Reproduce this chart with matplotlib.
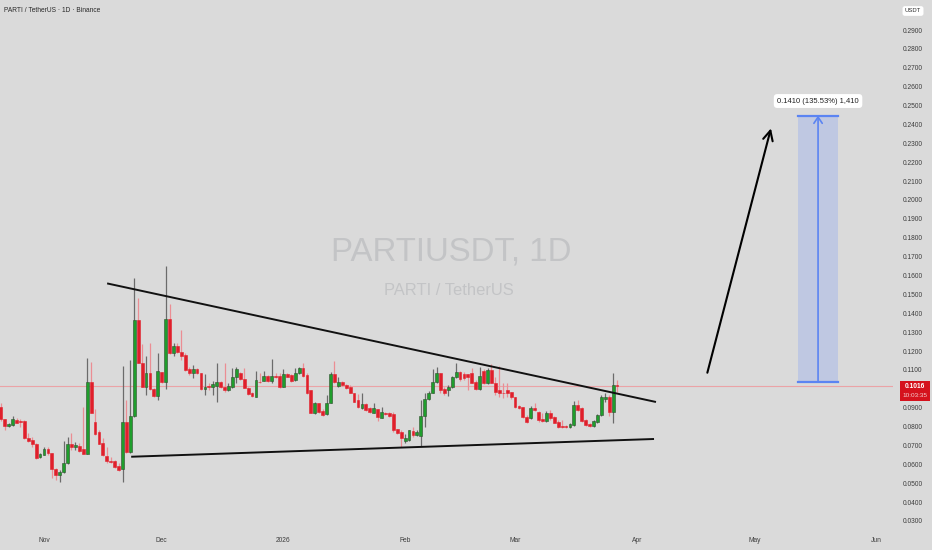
import matplotlib
matplotlib.use('Agg')
import matplotlib.pyplot as plt
import matplotlib.dates as mdates
from matplotlib.patches import Rectangle
from matplotlib import font_manager
import pandas as pd

# ---------------- data ----------------
start_date = '2025-10-21'
opens = [.0905, .0838, .0803, .0808, .0834, .0827, .0827, .0737, .0728, .0707,
         .0637, .0651, .0681, .0658, .0577, .0541, .0559, .0608, .0705, .0693,
         .0697, .0679, .0654, .1034, .0825, .0769, .0714, .0643, .0619, .0619,
         .0591, .0577, .0825, .0667, .0855, .1364, .1135, .1011, .1081, .0997,
         .0961, .1090, .1037, .1369, .1187, .1226, .1196, .1179, .1103, .1085,
         .1103, .1081, .0997, .1014, .1007, .1014, .1037, .1011, .0993, .1007,
         .1064, .1081, .1050, .1002, .0979, .0958, .1037, .1043, .1067, .1041,
         .1067, .1067, .1007, .1080, .1073, .1046, .1081, .1110, .1073, .0993,
         .0870, .0923, .0884, .0866, .0926, .1078, .1016, .1037, .1020, .1011,
         .0979, .0940, .0896, .0919, .0896, .0873, .0891, .0847, .0873, .0870,
         .0866, .0785, .0773, .0725, .0728, .0776, .0753, .0749, .0855, .0944,
         .0979, .1037, .1082, .0997, .0993, .1007, .1060, .1090, .1076, .1076,
         .1082, .1037, .0997, .1096, .1029, .1099, .1032, .0993, .0979, .0993,
         .0984, .0954, .0908, .0905, .0852, .0843, .0900, .0879, .0838, .0831,
         .0873, .0852, .0825, .0803, .0803, .0795, .0806, .0912, .0896, .0834,
         .0813, .0803, .0824, .0861, .0944, .0958, .0879, .1022]
highs = [.0923, .0838, .0820, .0856, .0843, .0838, .0834, .0767, .0746, .0714,
         .0658, .0693, .0690, .0661, .0578, .0569, .0725, .0746, .0767, .0720,
         .0711, .0905, .1164, .1143, .0891, .0781, .0737, .0693, .0640, .0622,
         .0605, .1120, .0940, .1152, .1585, .1479, .1235, .1173, .1240, .1002,
         .1187, .1090, .1650, .1449, .1240, .1240, .1311, .1187, .1117, .1126,
         .1108, .1086, .1079, .1032, .1041, .1135, .1041, .1135, .1028, .1108,
         .1114, .1090, .1108, .1011, .0984, .1096, .1081, .1094, .1073, .1157,
         .1081, .1086, .1103, .1085, .1078, .1108, .1117, .1135, .1081, .0993,
         .0931, .0926, .0891, .0967, .1090, .1149, .1060, .1043, .1025, .1020,
         .0979, .0972, .0976, .0926, .0901, .0923, .0891, .0901, .0878, .0878,
         .0878, .0788, .0781, .0760, .0781, .0799, .0781, .0940, .0976, .0990,
         .1103, .1117, .1082, .1011, .1020, .1067, .1138, .1096, .1090, .1078,
         .1108, .1046, .1113, .1103, .1108, .1131, .1060, .1120, .1032, .1029,
         .0984, .0954, .0912, .0905, .0861, .0908, .0926, .0880, .0873, .0884,
         .0887, .0856, .0834, .0834, .0806, .0817, .0937, .0940, .0905, .0838,
         .0817, .0834, .0866, .0967, .0976, .0967, .1085, .1046]
lows = [.0831, .0781, .0799, .0803, .0817, .0799, .0734, .0720, .0693, .0626,
        .0633, .0647, .0651, .0525, .0517, .0508, .0552, .0601, .0675, .0675,
        .0667, .0654, .0654, .0870, .0755, .0705, .0643, .0608, .0605, .0578,
        .0566, .0508, .0661, .0661, .0852, .1135, .1007, .0965, .0993, .0958,
        .0940, .1032, .0997, .1184, .1173, .1187, .1152, .1096, .1073, .1055,
        .1078, .0993, .0965, .0993, .0967, .0931, .1002, .0984, .0990, .1002,
        .1032, .1046, .1002, .0967, .0958, .0956, .1028, .1041, .1037, .1032,
        .1055, .1002, .1007, .1060, .1037, .1043, .1078, .1064, .0972, .0870,
        .0866, .0870, .0855, .0861, .0923, .1032, .1011, .1014, .0997, .0976,
        .0931, .0896, .0891, .0884, .0870, .0870, .0831, .0843, .0861, .0852,
        .0773, .0760, .0693, .0714, .0725, .0746, .0750, .0697, .0795, .0940,
        .0976, .1032, .0976, .0967, .0962, .1002, .1055, .1043, .1046, .0993,
        .1029, .0993, .0993, .1025, .1025, .1029, .0967, .0958, .0949, .0958,
        .0944, .0896, .0891, .0843, .0820, .0838, .0884, .0825, .0824, .0825,
        .0834, .0817, .0790, .0790, .0792, .0790, .0803, .0884, .0825, .0803,
        .0799, .0795, .0820, .0855, .0931, .0855, .0820, .0984]
closes = [.0838, .0803, .0813, .0838, .0820, .0824, .0737, .0725, .0705, .0635,
          .0654, .0681, .0658, .0575, .0541, .0559, .0608, .0705, .0693, .0700,
          .0672, .0654, .1034, .0870, .0760, .0707, .0649, .0619, .0610, .0587,
          .0570, .0825, .0667, .0855, .1364, .1135, .1011, .1081, .0997, .0961,
          .1094, .1037, .1369, .1187, .1226, .1196, .1173, .1099, .1085, .1103,
          .1081, .0997, .1011, .1007, .1023, .1034, .1007, .0993, .1014, .1064,
          .1105, .1050, .1002, .0972, .0963, .1046, .1034, .1067, .1043, .1067,
          .1060, .1007, .1080, .1064, .1043, .1085, .1110, .1067, .0976, .0870,
          .0923, .0875, .0861, .0926, .1078, .1037, .1037, .1020, .1002, .0979,
          .0931, .0905, .0919, .0887, .0875, .0896, .0852, .0875, .0866, .0855,
          .0781, .0764, .0737, .0737, .0780, .0753, .0773, .0855, .0944, .0979,
          .1037, .1082, .0993, .0976, .1007, .1060, .1090, .1050, .1055, .1064,
          .1032, .0997, .1067, .1029, .1099, .1032, .0984, .0976, .0976, .0976,
          .0954, .0905, .0896, .0848, .0825, .0900, .0887, .0834, .0831, .0873,
          .0843, .0820, .0795, .0795, .0795, .0811, .0912, .0887, .0829, .0808,
          .0803, .0827, .0861, .0954, .0954, .0879, .1020, .1016]

last_price = 0.1016
price_ticks = [0.03, 0.04, 0.05, 0.06, 0.07, 0.08, 0.09, 0.11, 0.12, 0.13, 0.14,
               0.15, 0.16, 0.17, 0.18, 0.19, 0.20, 0.21, 0.22, 0.23, 0.24, 0.25,
               0.26, 0.27, 0.28, 0.29]
month_ticks = ['2025-11-01', '2025-12-01', '2026-01-01', '2026-02-01',
               '2026-03-01', '2026-04-01', '2026-05-01', '2026-06-01']
month_labels = ['Nov', 'Dec', '2026', 'Feb', 'Mar', 'Apr', 'May', 'Jun']

upper_trend_dates = ['2025-11-17 02:00', '2026-04-05 22:00']
upper_trend_prices = [0.1558, 0.0930]
lower_trend_dates = ['2025-11-23 05:00', '2026-04-05 10:00']
lower_trend_prices = [0.0640, 0.0734]
arrow_dates = ['2026-04-19 00:00', '2026-05-05 05:00']
arrow_prices = [0.1085, 0.2379]
target_dates = ['2026-05-12 05:00', '2026-05-22 05:00']
target_prices = [0.1037, 0.2447]
target_label = '0.1410 (135.53%) 1,410'


def dnum(lst):
    return mdates.date2num(pd.to_datetime(lst, format='%Y-%m-%d %H:%M'))


# ---------------- style ----------------
names = {f.name for f in font_manager.fontManager.ttflist}
if 'Liberation Sans Narrow' in names:
    FONT, K = 'Liberation Sans Narrow', 1.0
else:
    FONT, K = 'Liberation Sans', 0.85
plt.rcParams['font.family'] = [FONT, 'DejaVu Sans']

BG = '#dadada'
GREEN = '#1f9e2c'
RED = '#e01f2b'
TXT = '#3d3d3d'

W, H = 932, 550
fig = plt.figure(figsize=(W / 100, H / 100), dpi=100, facecolor=BG)
ax = fig.add_axes([0, 20 / H, 893 / W, 530 / H], facecolor=BG)

dates = pd.date_range(start_date, periods=len(opens), freq='D')
x = mdates.date2num(dates)

for xi, o, h, l, c in zip(x, opens, highs, lows, closes):
    up = c >= o
    wick_col = '#6b6b6b' if up else '#eb8d93'
    ax.vlines(xi, l, h, color=wick_col, lw=0.9, zorder=2)
    bottom = min(o, c)
    height = max(abs(c - o), 0.0004)
    ax.bar(xi, height, bottom=bottom, width=0.72,
           color=GREEN if up else RED,
           edgecolor='#2f4f2f' if up else RED, linewidth=0.4, zorder=3)

# last price line
ax.axhline(last_price, color='#eba3a6', lw=0.8, zorder=1)

# trendlines
ax.plot(dnum(upper_trend_dates), upper_trend_prices,
        color='#111111', lw=1.4, zorder=4, solid_capstyle='butt')
ax.plot(dnum(lower_trend_dates), lower_trend_prices,
        color='#111111', lw=1.4, zorder=4, solid_capstyle='butt')

# projection arrow
ad = dnum(arrow_dates)
ax.annotate('', xy=(ad[1], arrow_prices[1]), xytext=(ad[0], arrow_prices[0]),
            arrowprops=dict(arrowstyle='->,head_length=0.7,head_width=0.35',
                            color='#000000', lw=1.5, shrinkA=0, shrinkB=0),
            zorder=5)

# target box
td = dnum(target_dates)
ax.add_patch(Rectangle((td[0], target_prices[0]), td[1] - td[0],
                       target_prices[1] - target_prices[0],
                       facecolor='#bfc8e2', edgecolor='none', zorder=2))
for p in target_prices:
    ax.plot(td, [p, p], color='#5b84f2', lw=1.6, zorder=3)
mid = (td[0] + td[1]) / 2
ax.annotate('', xy=(mid, target_prices[1]), xytext=(mid, target_prices[0]),
            arrowprops=dict(arrowstyle='->,head_length=0.45,head_width=0.3',
                            color='#5b84f2', lw=1.2, shrinkA=0, shrinkB=0),
            zorder=4)
ax.text(mid, 0.2524, target_label, ha='center', va='center',
        fontsize=5.2 / K * 0.9, color='#222222', zorder=6,
        bbox=dict(boxstyle='round,pad=0.45', fc='white', ec='none'))

# watermark
ax.text(0.505, 0.5245, 'PARTIUSDT, 1D', transform=ax.transAxes,
        ha='center', va='center', fontsize=28 * K, color='#c3c4c6', zorder=0)
ax.text(0.503, 0.451, 'PARTI / TetherUS', transform=ax.transAxes,
        ha='center', va='center', fontsize=14 * K, color='#c3c4c6', zorder=0)

# axes
nov1 = mdates.date2num(pd.Timestamp('2025-11-01'))
ax.set_xlim(nov1 - 11.21, nov1 + 216.3)
ax.set_ylim(0.0252, 0.3059)
for s in ax.spines.values():
    s.set_visible(False)
ax.yaxis.tick_right()
ax.set_yticks(price_ticks)
ax.set_yticklabels([f'{v:.4f}' for v in price_ticks])
ax.set_xticks(mdates.date2num(pd.to_datetime(month_ticks)))
ax.set_xticklabels(month_labels)
ax.tick_params(axis='y', length=0, pad=7, labelsize=5.6 * K, colors=TXT)
ax.tick_params(axis='x', length=0, pad=5, labelsize=5.6 * K, colors=TXT)

# price label on axis
ytr = ax.get_yaxis_transform()
ax.add_patch(Rectangle((900 / 893, 0.0935), 30 / 893, 0.0106, transform=ytr,
                       facecolor='#d5121d', edgecolor='none', clip_on=False, zorder=6))
ax.text(915 / 893, 0.1014, f'{last_price:.4f}', transform=ytr, ha='center',
        va='center', fontsize=5.6 * K, color='white', fontweight='bold',
        clip_on=False, zorder=7)
ax.text(915 / 893, 0.0965, '10:03:35', transform=ytr, ha='center',
        va='center', fontsize=5.4 * K, color='#f4d0d2', clip_on=False, zorder=7)

# header texts
fig.text(4 / W, 1 - 10 / H, 'PARTI / TetherUS · 1D · Binance', ha='left',
         va='center', fontsize=5.6 * K, color='#2a2a2a')
fig.text(913 / W, 1 - 11 / H, 'USDT', ha='center', va='center',
         fontsize=5.0 * K, color='#2a2a2a',
         bbox=dict(boxstyle='round,pad=0.4', fc='white', ec='none'))

fig.savefig('out.png', dpi=100, facecolor=BG)
